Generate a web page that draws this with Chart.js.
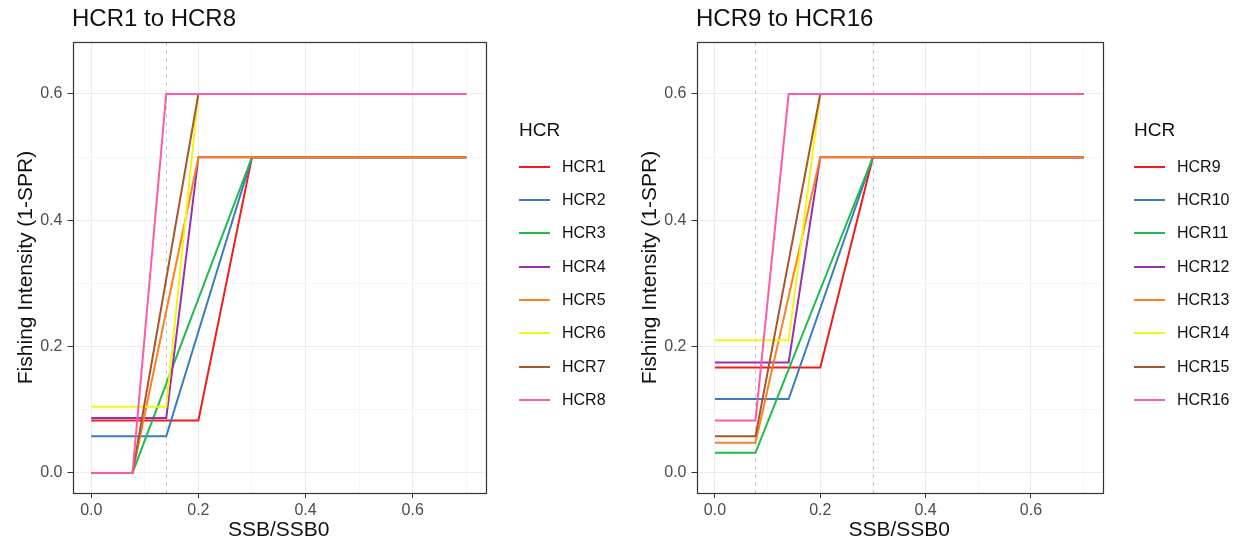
<!DOCTYPE html>
<html><head><meta charset="utf-8">
<script src="https://cdn.jsdelivr.net/npm/chart.js@4.4.1/dist/chart.umd.min.js"></script>
<style>
html,body{margin:0;padding:0;background:#fff;}
body{width:1241px;height:544px;overflow:hidden;position:relative;font-family:"Liberation Sans",Arial,sans-serif;}
.panel{position:absolute;top:0;height:544px;}
.ptitle{position:absolute;top:4px;font-size:24px;line-height:28px;color:#111;white-space:nowrap;}
.ltitle{position:absolute;font-size:19px;line-height:22px;color:#111;white-space:nowrap;}
.litem{position:absolute;height:20px;white-space:nowrap;}
.litem .sw{position:absolute;left:0;top:9px;width:31px;height:2px;}
.litem .tx{position:absolute;left:43px;top:0;font-size:16px;line-height:20px;color:#111;}
</style>
</head>
<body>
<div class="panel" id="p1" style="left:0;width:624px;"><canvas id="c1" width="624" height="544"></canvas></div>
<div class="panel" id="p2" style="left:624px;width:617px;"><canvas id="c2" width="617" height="544"></canvas></div>
<script>
// ---- data ----
const xMajor = [0, 0.2, 0.4, 0.6];
const xMinor = [0.1, 0.3, 0.5, 0.7];
const yMajor = [0, 0.2, 0.4, 0.6];
const yMinor = [0.1, 0.3, 0.5];
const xEnd = 0.7;

const titleLeft = "HCR1 to HCR8";
const titleRight = "HCR9 to HCR16";

const hcrLeft = ["HCR1","HCR2","HCR3","HCR4","HCR5","HCR6","HCR7","HCR8"];
const flatLeft = [0.083, 0.058, 0, 0.087, 0, 0.105, 0, 0];
const rampStartLeft = [0.2, 0.14, 0.077, 0.14, 0.077, 0.14, 0.077, 0.077];
const rampEndLeft = [0.3, 0.3, 0.3, 0.2, 0.2, 0.2, 0.2, 0.14];
const maxLeft = [0.5, 0.5, 0.5, 0.5, 0.5, 0.6, 0.6, 0.6];

const hcrRight = ["HCR9","HCR10","HCR11","HCR12","HCR13","HCR14","HCR15","HCR16"];
const flatRight = [0.167, 0.117, 0.032, 0.175, 0.048, 0.21, 0.058, 0.083];
const rampStartRight = [0.2, 0.14, 0.077, 0.14, 0.077, 0.14, 0.077, 0.077];
const rampEndRight = [0.3, 0.3, 0.3, 0.2, 0.2, 0.2, 0.2, 0.14];
const maxRight = [0.5, 0.5, 0.5, 0.5, 0.5, 0.6, 0.6, 0.6];

const refLeft = [0.14];
const refRight = [0.077, 0.3];

const colors = ["#f51a1a","#3a7cc0","#1fbb4c","#9a2fae","#ff7f1c","#f5f514","#a5562e","#ff5aa5"];

// ---- helpers ----
const FONT = '"Liberation Sans", Arial, sans-serif';
function isIn(arr, v){ return arr.some(a => Math.abs(a - v) < 1e-9); }

const panelPlugin = {
  id: 'panel',
  beforeDatasetsDraw(chart, args, opts){
    const {ctx, chartArea:a, scales:{x}} = chart;
    ctx.save();
    ctx.strokeStyle = '#cccccc';
    ctx.lineWidth = 1;
    ctx.setLineDash([4,4]);
    (opts.refs || []).forEach(v => {
      const px = Math.round(x.getPixelForValue(v)) + 0.5;
      ctx.beginPath(); ctx.moveTo(px, a.top); ctx.lineTo(px, a.bottom); ctx.stroke();
    });
    ctx.restore();
  },
  afterDatasetsDraw(chart){
    const {ctx, chartArea:a} = chart;
    ctx.save();
    ctx.strokeStyle = '#333';
    ctx.lineWidth = 1.2;
    ctx.strokeRect(Math.round(a.left)+0.5, Math.round(a.top)+0.5, Math.round(a.right - a.left), Math.round(a.bottom - a.top));
    ctx.restore();
  }
};

function makeChart(canvasId, names, flat, rs, re, mx, refs){
  const datasets = names.map((n, i) => ({
    label: n,
    data: [
      {x: 0, y: flat[i]},
      {x: rs[i], y: flat[i]},
      {x: re[i], y: mx[i]},
      {x: xEnd, y: mx[i]}
    ],
    borderColor: colors[i],
    backgroundColor: colors[i],
    borderWidth: 2,
    pointRadius: 0,
    tension: 0,
    fill: false,
    order: names.length - i
  }));
  const xAll = xMajor.concat(xMinor).sort((a,b)=>a-b);
  const yAll = yMajor.concat(yMinor).sort((a,b)=>a-b);
  return new Chart(document.getElementById(canvasId), {
    type: 'line',
    data: { datasets },
    plugins: [panelPlugin],
    options: {
      responsive: false,
      animation: false,
      events: [],
      layout: { padding: { top: 42, right: 139, left: 0, bottom: 0 } },
      plugins: {
        legend: { display: false },
        title: { display: false },
        tooltip: { enabled: false },
        panel: { refs }
      },
      scales: {
        x: {
          type: 'linear',
          min: -0.035, max: 0.735,
          afterBuildTicks: s => { s.ticks = xAll.map(v => ({value: v})); },
          afterFit: s => { s.height = 51; },
          border: { display: false },
          grid: {
            color: c => isIn(xMajor, c.tick.value) ? '#ececec' : '#f6f6f6',
            tickColor: c => isIn(xMajor, c.tick.value) ? '#333' : 'rgba(0,0,0,0)',
            tickLength: 5,
            lineWidth: 1
          },
          ticks: {
            autoSkip: false, maxRotation: 0, padding: 3,
            color: '#4d4d4d',
            font: { family: FONT, size: 16 },
            callback: v => isIn(xMajor, v) ? v.toFixed(1) : ''
          },
          title: {
            display: true, text: 'SSB/SSB0', color: '#111',
            font: { family: FONT, size: 21 },
            padding: { top: 0, bottom: 1 }
          }
        },
        y: {
          type: 'linear',
          min: -0.0317, max: 0.6823,
          afterBuildTicks: s => { s.ticks = yAll.map(v => ({value: v})); },
          afterFit: s => { s.width = 72.5; },
          border: { display: false },
          grid: {
            color: c => isIn(yMajor, c.tick.value) ? '#ececec' : '#f6f6f6',
            tickColor: c => isIn(yMajor, c.tick.value) ? '#333' : 'rgba(0,0,0,0)',
            tickLength: 5,
            lineWidth: 1
          },
          ticks: {
            autoSkip: false, padding: 5,
            color: '#4d4d4d',
            font: { family: FONT, size: 16 },
            callback: v => isIn(yMajor, v) ? v.toFixed(1) : ''
          },
          title: {
            display: true, text: 'Fishing Intensity (1-SPR)', color: '#111',
            font: { family: FONT, size: 21 },
            padding: { top: 14, bottom: 0 }
          }
        }
      }
    }
  });
}

function addText(panelId, title, names, legendLeft){
  const p = document.getElementById(panelId);
  const t = document.createElement('div');
  t.className = 'ptitle'; t.style.left = '72px'; t.textContent = title;
  p.appendChild(t);
  const lt = document.createElement('div');
  lt.className = 'ltitle'; lt.style.left = legendLeft + 'px'; lt.style.top = '119px';
  lt.textContent = 'HCR';
  p.appendChild(lt);
  names.forEach((n, i) => {
    const it = document.createElement('div');
    it.className = 'litem';
    it.style.left = legendLeft + 'px';
    it.style.top = (156.7 + i * 33.33) + 'px';
    const sw = document.createElement('div'); sw.className = 'sw'; sw.style.background = colors[i];
    const tx = document.createElement('div'); tx.className = 'tx'; tx.textContent = n;
    it.appendChild(sw); it.appendChild(tx);
    p.appendChild(it);
  });
}

makeChart('c1', hcrLeft, flatLeft, rampStartLeft, rampEndLeft, maxLeft, refLeft);
makeChart('c2', hcrRight, flatRight, rampStartRight, rampEndRight, maxRight, refRight);
addText('p1', titleLeft, hcrLeft, 519);
addText('p2', titleRight, hcrRight, 510);
</script>
</body></html>
